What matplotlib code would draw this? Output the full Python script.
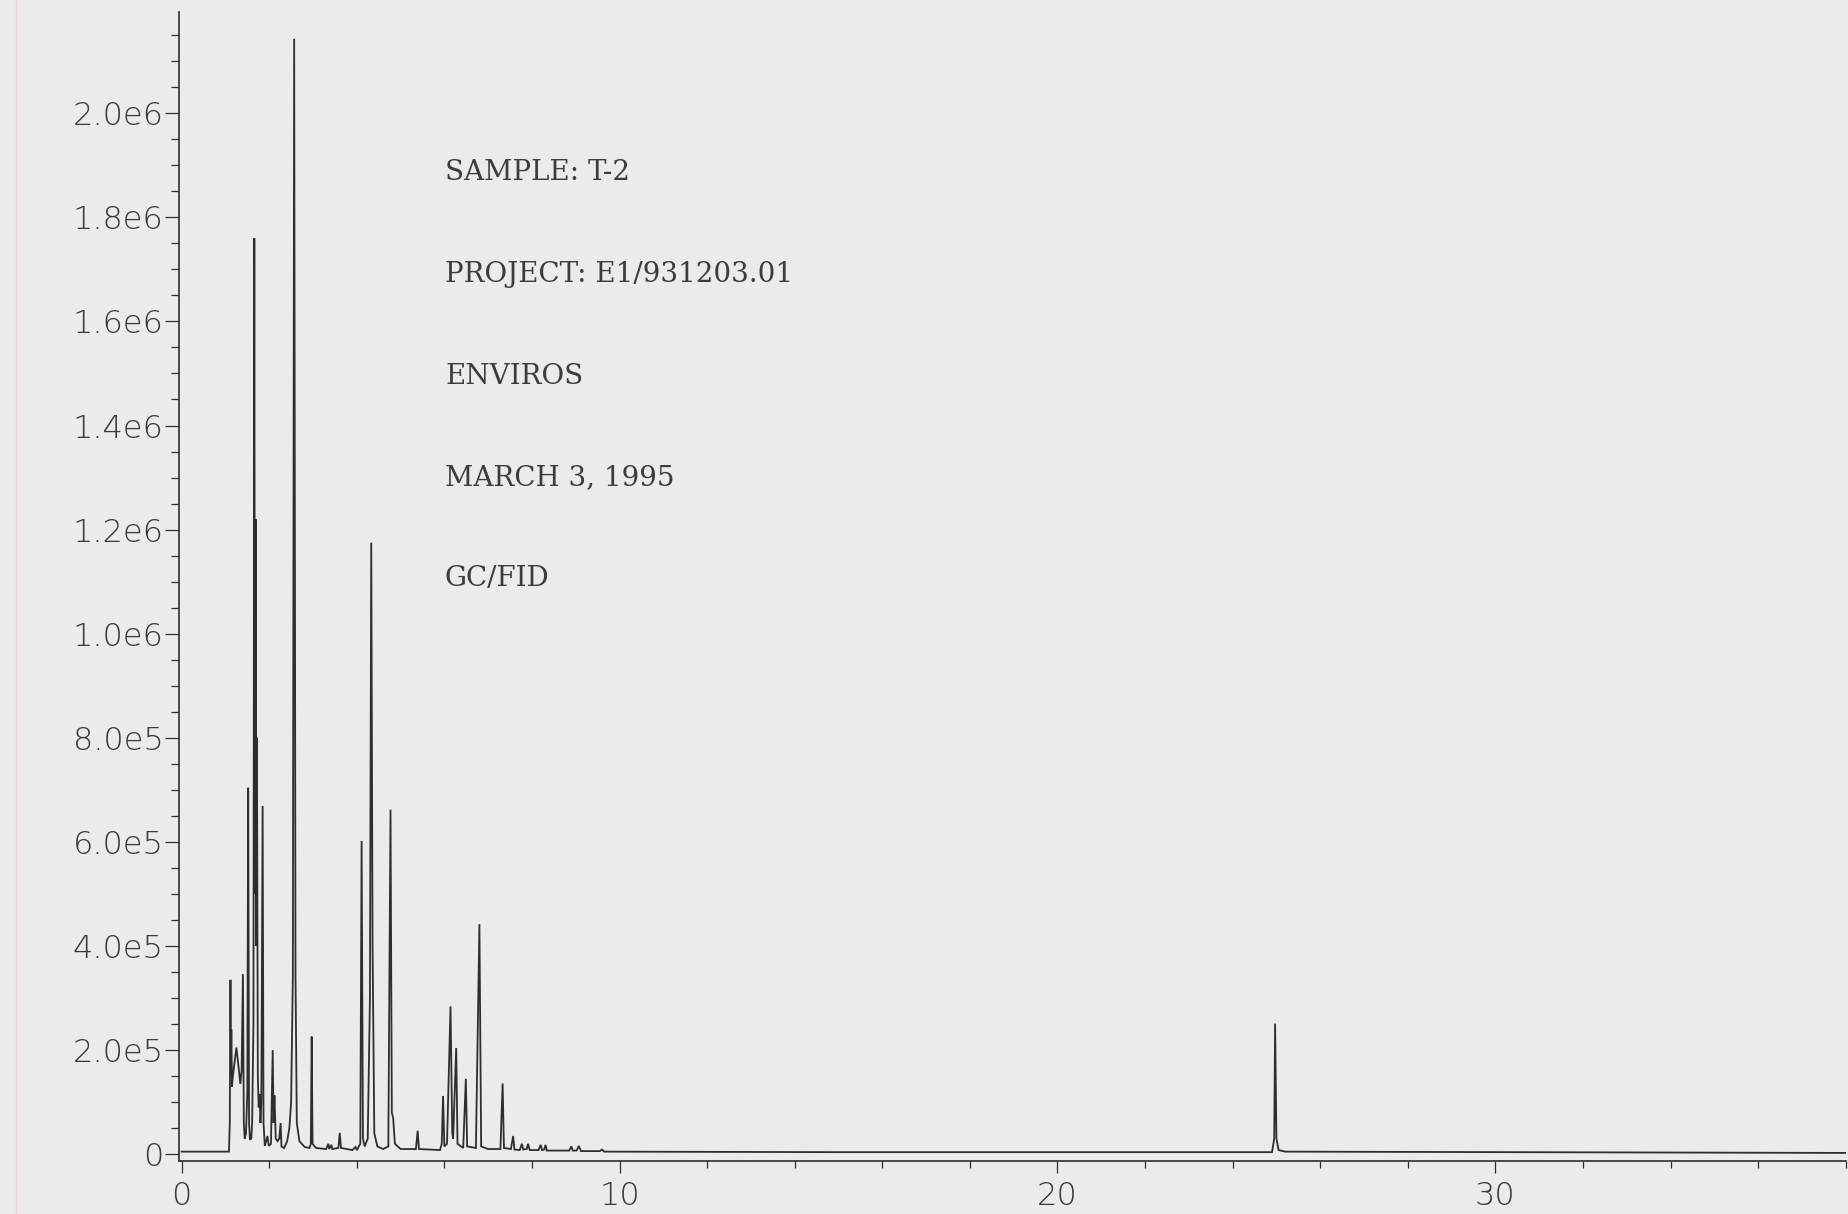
import matplotlib
matplotlib.use("Agg")
import matplotlib.pyplot as plt
from matplotlib.ticker import MultipleLocator
from matplotlib.lines import Line2D

# ---------------- data ----------------
# retention time (min) and detector signal of the trace vertices
rt = [0.00, 1.08, 1.10, 1.115, 1.125, 1.135, 1.15, 1.17, 1.25, 1.31, 1.34, 1.37,
      1.40, 1.42, 1.44, 1.47, 1.50, 1.52, 1.54, 1.56, 1.59, 1.61, 1.64, 1.66,
      1.675, 1.69, 1.705, 1.72, 1.74, 1.76, 1.78, 1.80, 1.82, 1.85, 1.87, 1.90,
      1.93, 1.96, 1.99, 2.04, 2.08, 2.10, 2.12, 2.15, 2.19, 2.23, 2.26, 2.28,
      2.34, 2.41, 2.46, 2.50, 2.54, 2.57, 2.60, 2.63, 2.69, 2.81, 2.92, 2.95,
      2.97, 2.99, 3.07, 3.30, 3.35, 3.37, 3.42, 3.44, 3.58, 3.61, 3.64, 3.90,
      3.97, 4.00, 4.08, 4.11, 4.14, 4.18, 4.25, 4.30, 4.33, 4.36, 4.40, 4.47,
      4.60, 4.72, 4.77, 4.80, 4.83, 4.87, 5.00, 5.35, 5.39, 5.42, 5.90, 5.94,
      5.97, 6.00, 6.06, 6.14, 6.18, 6.20, 6.27, 6.30, 6.43, 6.49, 6.52, 6.72,
      6.80, 6.84, 7.00, 7.28, 7.33, 7.36, 7.52, 7.57, 7.60, 7.72, 7.77, 7.80,
      7.88, 7.91, 7.95, 8.15, 8.20, 8.23, 8.28, 8.31, 8.34, 8.85, 8.90, 8.93,
      9.02, 9.07, 9.12, 9.55, 9.60, 9.65, 15.0, 24.90, 24.95, 24.97, 25.00,
      25.05, 25.20, 38.0]
signal = [5000, 5000, 60000, 335000, 160000, 240000, 130000, 150000, 205000,
          160000, 135000, 160000, 346000, 60000, 30000, 40000, 120000, 704000,
          60000, 28000, 30000, 60000, 250000, 1760000, 500000, 1220000, 400000,
          800000, 150000, 90000, 115000, 60000, 100000, 669000, 60000, 16000,
          25000, 35000, 16000, 20000, 200000, 60000, 113000, 30000, 25000, 30000,
          60000, 15000, 12000, 25000, 50000, 100000, 340000, 2143000, 350000,
          60000, 25000, 14000, 12000, 20000, 226000, 20000, 12000, 10000, 20000,
          10000, 18000, 10000, 12000, 41000, 12000, 8000, 14000, 8000, 20000,
          602000, 30000, 15000, 30000, 300000, 1175000, 400000, 40000, 15000,
          10000, 15000, 662000, 80000, 70000, 20000, 10000, 10000, 45000, 10000,
          8000, 20000, 112000, 15000, 20000, 284000, 40000, 30000, 204000, 20000,
          12000, 145000, 15000, 12000, 442000, 15000, 10000, 10000, 136000,
          12000, 10000, 35000, 9000, 8000, 20000, 9000, 10000, 20000, 8000, 8000,
          18000, 8000, 9000, 18000, 7000, 7000, 15000, 7000, 7000, 16000, 6000,
          6000, 9000, 5000, 4000, 4000, 30000, 251000, 30000, 8000, 5000, 2500]

ytick_values = [0, 2.0e5, 4.0e5, 6.0e5, 8.0e5, 1.0e6, 1.2e6, 1.4e6, 1.6e6, 1.8e6, 2.0e6]
ytick_labels = ["0", "2.0e5", "4.0e5", "6.0e5", "8.0e5", "1.0e6", "1.2e6",
                "1.4e6", "1.6e6", "1.8e6", "2.0e6"]
xtick_values = [0, 10, 20, 30]
xtick_labels = ["0", "10", "20", "30"]
info_lines = ["SAMPLE: T-2", "PROJECT: E1/931203.01", "ENVIROS",
              "MARCH 3, 1995", "GC/FID"]

# ---------------- figure ----------------
W, H = 1848, 1214
paper = "#ecebe9"
ink = "#2e2e2e"

fig = plt.figure(figsize=(W / 100, H / 100), dpi=100, facecolor=paper)
ax = fig.add_axes([179 / W, (H - 1161) / H, (1845.7 - 179) / W, (1161 - 11.7) / H])
ax.set_facecolor(paper)

ax.plot(rt, signal, color=ink, lw=1.3, solid_joinstyle="miter")

ax.set_xlim(-0.06, 38)
ax.set_ylim(-13000, 2.195e6)

for s in ("top", "right"):
    ax.spines[s].set_visible(False)
for s in ("left", "bottom"):
    ax.spines[s].set_color(ink)
    ax.spines[s].set_linewidth(1.2)

ax.set_xticks(xtick_values, xtick_labels)
ax.set_yticks(ytick_values, ytick_labels)
ax.xaxis.set_minor_locator(MultipleLocator(2))
ax.yaxis.set_minor_locator(MultipleLocator(50000))

ax.tick_params(axis="x", which="major", direction="out", length=8.6, width=0.9,
               color=ink, pad=6, labelcolor="#3a3a3a")
ax.tick_params(axis="x", which="minor", direction="out", length=5, width=0.9, color=ink)
ax.tick_params(axis="y", which="major", direction="out", length=10, width=0.9,
               color=ink, pad=1, labelcolor="#3a3a3a")
ax.tick_params(axis="y", which="minor", direction="out", length=5.8, width=0.9, color=ink)
for lab in ax.get_xticklabels() + ax.get_yticklabels():
    lab.set_fontfamily("DejaVu Sans")
    lab.set_fontsize(23)
    lab.set_fontweight(200)

# header block
line_y = [172, 275, 377, 478, 579]
for txt, yc in zip(info_lines, line_y):
    fig.text(445 / W, 1 - yc / H, txt, ha="left", va="center",
             family="DejaVu Serif", fontsize=20, color="#3c3c3c")

# faint margin line from the scanned sheet
fig.add_artist(Line2D([16 / W, 16 / W], [0, 1], transform=fig.transFigure,
                      color="#f0d4da", lw=1.0))

fig.savefig("out.png", dpi=100, facecolor=paper)
